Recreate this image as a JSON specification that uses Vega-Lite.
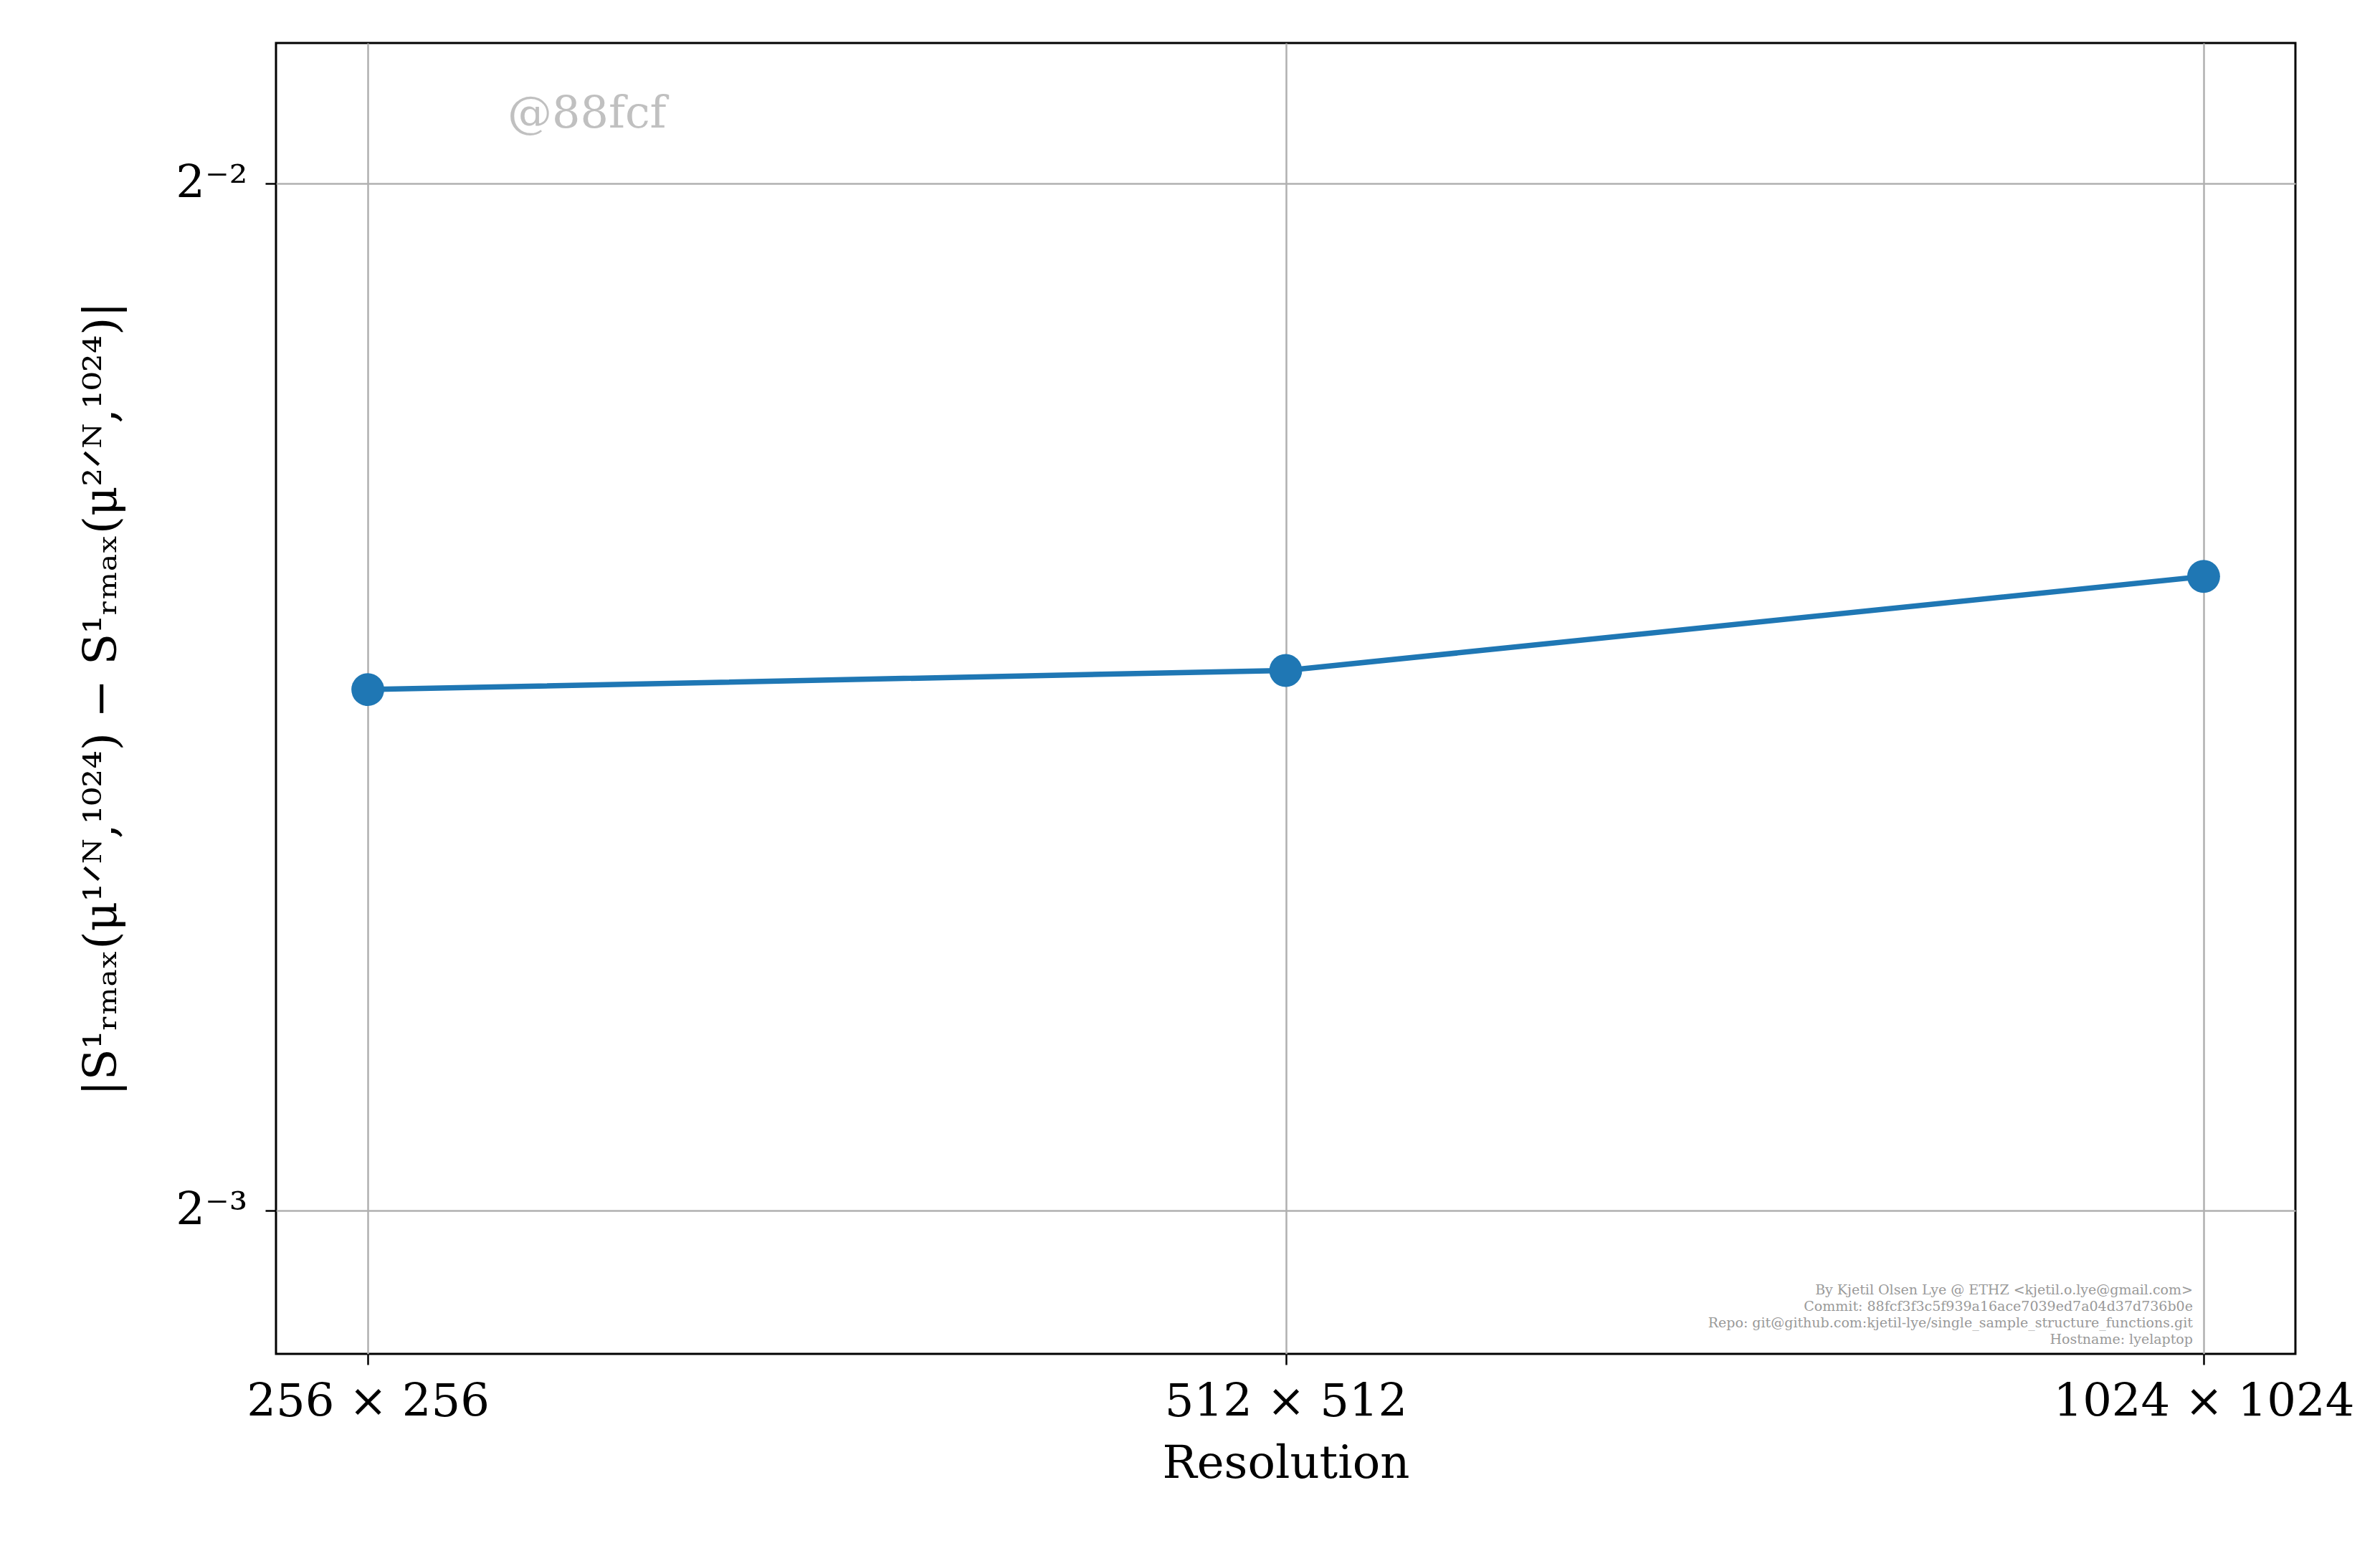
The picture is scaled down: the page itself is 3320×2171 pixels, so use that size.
{
  "$schema": "https://vega.github.io/schema/vega-lite/v6.json",
  "width": 2817,
  "height": 1829,
  "autosize": {"type": "none"},
  "padding": {"left": 385, "top": 60, "right": 118, "bottom": 282},
  "background": "white",
  "config": {
    "font": "DejaVu Serif",
    "view": {"stroke": "black", "strokeWidth": 3},
    "axis": {
      "labelFont": "DejaVu Serif", "titleFont": "DejaVu Serif",
      "labelFontSize": 64, "titleFontSize": 64, "titleFontWeight": "normal",
      "labelColor": "black", "titleColor": "black", "labelLimit": 0,
      "gridColor": "#b0b0b0", "gridWidth": 2.5,
      "tickColor": "black", "tickSize": 15, "tickWidth": 2.5,
      "domain": false
    }
  },
  "data": {"values": [
    {"res": "256", "value": 0.1777},
    {"res": "512", "value": 0.1800},
    {"res": "1024", "value": 0.1918}
  ]},
  "encoding": {
    "x": {
      "field": "res", "type": "ordinal", "sort": ["256", "512", "1024"],
      "scale": {"type": "point", "padding": 0.1},
      "axis": {"title": "Resolution", "labelAngle": 0, "labelExpr": "datum.value + ' × ' + datum.value", "labelPadding": 20, "titlePadding": 22, "grid": true}
    },
    "y": {
      "field": "value", "type": "quantitative",
      "scale": {"type": "log", "base": 2, "domain": [0.1135, 0.2749], "nice": false},
      "axis": {"title": "|S¹ᵣₘₐₓ(μ¹ᐟᴺ,¹⁰²⁴) − S¹ᵣₘₐₓ(μ²ᐟᴺ,¹⁰²⁴)|", "values": [0.125, 0.25], "labelExpr": "datum.value == 0.25 ? '2⁻²' : '2⁻³'", "labelPadding": 25, "titlePadding": 70, "grid": true}
    }
  },
  "layer": [
    {"mark": {"type": "line", "color": "#1f77b4", "strokeWidth": 7.5}},
    {"mark": {"type": "circle", "color": "#1f77b4", "size": 2100, "opacity": 1}},
    {
      "data": {"values": [{"res": "256", "value": 0.262, "label": "@88fcf"}]},
      "mark": {"type": "text", "align": "left", "dx": 195, "fontSize": 62, "color": "#c0c0c0"},
      "encoding": {"text": {"field": "label"}}
    },
    {
      "data": {"values": [{"res": "1024", "value": 0.1185, "label": ["By Kjetil Olsen Lye @ ETHZ <kjetil.o.lye@gmail.com>", "Commit: 88fcf3f3c5f939a16ace7039ed7a04d37d736b0e", "Repo: git@github.com:kjetil-lye/single_sample_structure_functions.git", "Hostname: lyelaptop"]}]},
      "mark": {"type": "text", "align": "right", "dx": -15, "fontSize": 19, "lineHeight": 23, "color": "#999999", "baseline": "middle"},
      "encoding": {"text": {"field": "label"}}
    }
  ]
}
